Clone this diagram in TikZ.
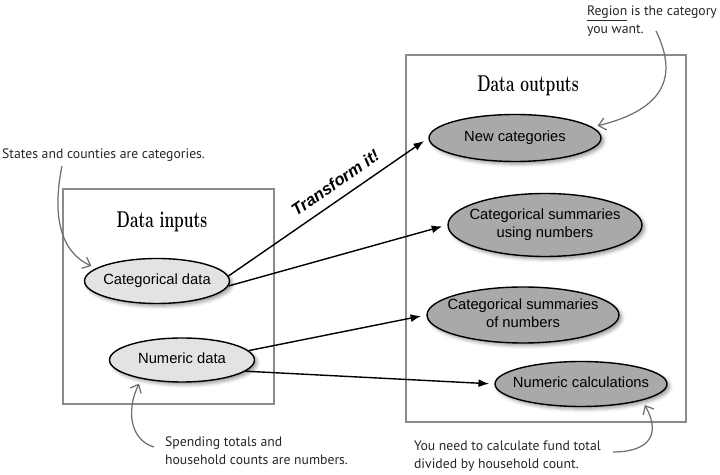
\documentclass[tikz,border=0pt]{standalone}
\usepackage{fontspec}
\usepackage{tikz}
\usetikzlibrary{shapes.geometric,shadows.blur,arrows.meta}
\newfontfamily\boxfont{Liberation Sans}
\newfontfamily\handfont{PT Sans}
\definecolor{infill}{HTML}{E3E3E3}
\definecolor{outfill}{HTML}{A9A9A9}
\definecolor{framegray}{HTML}{8A8A8A}
\definecolor{notegray}{HTML}{6E6E6E}
\newcommand{\ovaltext}[1]{\makebox[0pt]{\begin{tabular}{@{}c@{}}#1\end{tabular}}}
\newcommand{\boxtitle}[1]{\scalebox{0.68}[1]{\fontsize{13}{15}\selectfont\bfseries #1}}

\begin{document}
\begin{tikzpicture}[x=0.02cm,y=-0.02cm,
  frame/.style={draw=framegray,line width=0.9pt},
  oval/.style={ellipse,draw=black,line width=0.8pt,inner sep=0pt,
    blur shadow={shadow xshift=1.5pt,shadow yshift=-1.5pt,shadow blur radius=2pt},
    font=\boxfont\fontsize{8.4}{9.8}\selectfont},
  inoval/.style={oval,fill=infill},
  outoval/.style={oval,fill=outfill},
  flow/.style={-{Latex[length=6pt,width=4.5pt]},line width=0.8pt,shorten >=3pt},
  note/.style={font=\handfont\fontsize{7.8}{10.4}\selectfont,text=black!85,align=left,inner sep=1pt},
  notearrow/.style={-{Straight Barb[length=4pt,width=7pt]},draw=notegray,line width=0.7pt,shorten >=3pt}]
\useasboundingbox (0,0) rectangle (720,475);

% the two frames
\draw[frame] (63,189) rectangle (274,404);
\draw[frame] (406,55) rectangle (686,422);
\node (intitle) at (162,222) {\boxtitle{Data inputs}};
\node (outtitle) at (528,86) {\boxtitle{Data outputs}};

% inputs
\node[inoval,minimum width=2.9cm,minimum height=0.9cm] (cat) at (157,281) {\ovaltext{Categorical data}};
\node[inoval,minimum width=2.9cm,minimum height=0.88cm] (num) at (182,360) {\ovaltext{Numeric data}};

% outputs
\node[outoval,minimum width=3.44cm,minimum height=0.94cm] (newcat) at (515,138) {\ovaltext{New categories}};
\node[outoval,minimum width=3.88cm,minimum height=1.26cm] (sumusing) at (545,225) {\ovaltext{Categorical summaries\\using numbers}};
\node[outoval,minimum width=3.84cm,minimum height=1.12cm] (sumof) at (523,315) {\ovaltext{Categorical summaries\\of numbers}};
\node[outoval,minimum width=3.44cm,minimum height=0.9cm] (numcalc) at (581,384) {\ovaltext{Numeric calculations}};

% transformations
\draw[flow] (cat.4) -- (newcat.west)
  node[pos=0.58,sloped,above=2pt,font=\boxfont\bfseries\itshape\fontsize{9.5}{11}\selectfont] {Transform it!};
\draw[flow] (cat.-4) -- (sumusing.west);
\draw[flow] (num.8) -- (sumof.west);
\draw[flow] (num.-10) -- (numcalc.west);

% notes
\node[note,anchor=west] (catnote) at (0,155) {States and counties are categories.};
\node[note,anchor=west] (regionnote) at (585,21) {\underline{Region} is the category\\you want.};
\node[note,anchor=west] (numnote) at (163,451) {Spending totals and\\household counts are numbers.};
\node[note,anchor=west] (calcnote) at (412,456) {You need to calculate fund total\\divided by household count.};
\coordinate (catfoot) at (62,166);
\coordinate (regionfoot) at (656,31);
\coordinate (numfoot) at (154,447);
\coordinate (calcfoot) at (613,452);
\draw[notearrow] (catfoot) .. controls (52,215) and (60,252) .. (cat.168);
\draw[notearrow] (regionfoot) .. controls (676,72) and (670,108) .. (newcat.8);
\draw[notearrow] (numfoot) .. controls (130,440) and (126,410) .. (num.205);
\draw[notearrow] (calcfoot) .. controls (642,452) and (664,440) .. (numcalc.-15);
\end{tikzpicture}
\end{document}
